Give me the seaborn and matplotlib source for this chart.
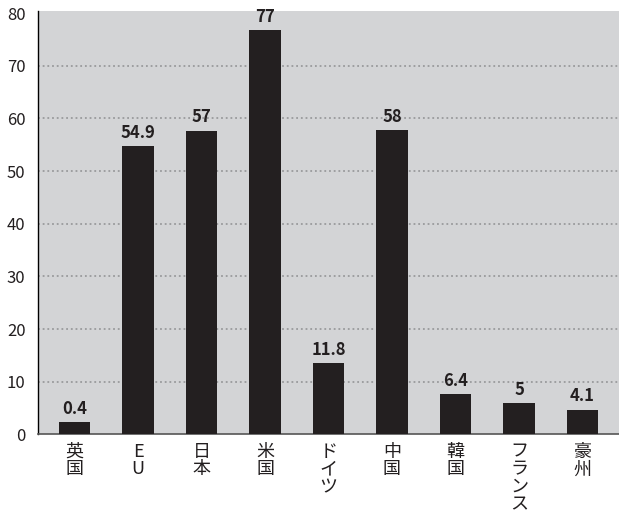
import matplotlib
matplotlib.use("Agg")
import matplotlib.pyplot as plt
import seaborn as sns
import pandas as pd

# Data
categories = ["英国", "EU", "日本", "米国", "ドイツ", "中国", "韓国", "フランス", "豪州"]
bar_heights = [2.3, 54.8, 57.7, 76.7, 13.6, 57.8, 7.7, 6.0, 4.7]
value_labels = ["0.4", "54.9", "57", "77", "11.8", "58", "6.4", "5", "4.1"]
y_ticks = [0, 10, 20, 30, 40, 50, 60, 70, 80]

df = pd.DataFrame({"category": categories, "value": bar_heights})

sns.set_theme(style="white")
plt.rcParams["font.family"] = ["Noto Sans CJK JP", "DejaVu Sans"]

ink = "#231f20"
fig = plt.figure(figsize=(6.19, 5.11), dpi=100)
ax = fig.add_axes([38 / 619, 1 - 434.3 / 511, 581 / 619, (434.3 - 11) / 511])
ax.set_facecolor("#d3d4d6")

sns.barplot(data=df, x="category", y="value", color=ink, saturation=1,
            width=0.49, ax=ax, zorder=3, edgecolor=ink, linewidth=0)

ax.set_xlim(-0.575, len(categories) - 1 + 0.575)
ax.set_ylim(0, 80.4)
ax.set_yticks(y_ticks)
ax.set_yticklabels([str(t) for t in y_ticks], fontsize=12, color=ink)

for t in y_ticks[1:-1]:
    ax.axhline(t, color="#999a9c", lw=1.3, linestyle=(0, (1.0, 1.6)), zorder=1)

ax.set_xticks(range(len(categories)))
ax.set_xticklabels(["\n".join(list(c)) for c in categories],
                   fontsize=13, color=ink, linespacing=0.98, va="top")

ax.tick_params(axis="both", length=0)
ax.tick_params(axis="y", pad=9)
ax.tick_params(axis="x", pad=6)

for i, (h, lab) in enumerate(zip(bar_heights, value_labels)):
    ax.annotate(lab, (i, h), xytext=(0, 3), textcoords="offset points",
                ha="center", va="bottom", fontsize=12, fontweight="bold",
                color=ink, zorder=4)

ax.set_xlabel("")
ax.set_ylabel("")
for s in ["top", "right"]:
    ax.spines[s].set_visible(False)
ax.spines["left"].set_color("#000000")
ax.spines["left"].set_linewidth(1.0)
ax.spines["bottom"].set_color("#555555")
ax.spines["bottom"].set_linewidth(1.2)

fig.savefig("out.png", dpi=100)
